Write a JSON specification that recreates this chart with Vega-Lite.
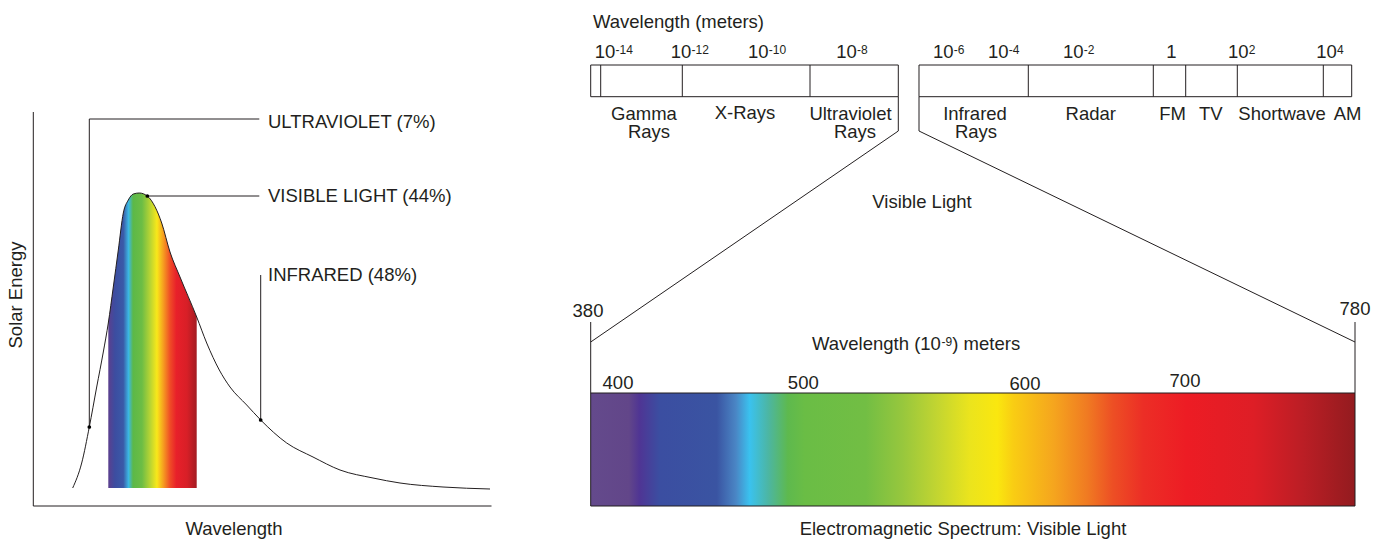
{
  "$schema": "https://vega.github.io/schema/vega-lite/v6.json",
  "width": 1378,
  "height": 539,
  "autosize": {"type": "none"},
  "padding": 0,
  "background": "white",
  "config": {"view": {"stroke": null}, "text": {"font": "Liberation Sans", "color": "#231f20"}},
  "datasets": {
    "curve": [
      {"x": 72.7, "y": 488}, {"x": 81.7, "y": 463}, {"x": 89.3, "y": 427}, {"x": 96.7, "y": 387},
      {"x": 103.3, "y": 352}, {"x": 108.3, "y": 323}, {"x": 113.3, "y": 287}, {"x": 118.3, "y": 250},
      {"x": 123.3, "y": 213}, {"x": 128.3, "y": 200}, {"x": 133.3, "y": 194}, {"x": 139.3, "y": 193},
      {"x": 147.3, "y": 196}, {"x": 155, "y": 206.7}, {"x": 161.7, "y": 223}, {"x": 170, "y": 252},
      {"x": 180, "y": 277}, {"x": 196.7, "y": 317}, {"x": 206.7, "y": 343}, {"x": 219.3, "y": 370},
      {"x": 230, "y": 387}, {"x": 246.7, "y": 405}, {"x": 260.7, "y": 420}, {"x": 286.7, "y": 443},
      {"x": 313, "y": 457}, {"x": 340, "y": 470}, {"x": 373, "y": 478}, {"x": 400, "y": 483},
      {"x": 443, "y": 487}, {"x": 490, "y": 489}
    ],
    "band": [
      {"x": 108.3, "y": 323}, {"x": 113.3, "y": 287}, {"x": 118.3, "y": 250}, {"x": 123.3, "y": 213},
      {"x": 128.3, "y": 200}, {"x": 133.3, "y": 194}, {"x": 139.3, "y": 193}, {"x": 147.3, "y": 196},
      {"x": 155, "y": 206.7}, {"x": 161.7, "y": 223}, {"x": 170, "y": 252}, {"x": 180, "y": 277},
      {"x": 196.7, "y": 317}
    ],
    "segments": [
      {"x": 33.3, "y": 112, "x2": 33.3, "y2": 506},
      {"x": 33.3, "y": 506, "x2": 491.5, "y2": 506},
      {"x": 89.3, "y": 427, "x2": 89.3, "y2": 119},
      {"x": 89.3, "y": 119, "x2": 259.3, "y2": 119},
      {"x": 147.3, "y": 196, "x2": 259.3, "y2": 196},
      {"x": 260.7, "y": 420, "x2": 260.7, "y2": 275},
      {"x": 600.7, "y": 65, "x2": 600.7, "y2": 96.7},
      {"x": 682.3, "y": 65, "x2": 682.3, "y2": 96.7},
      {"x": 810, "y": 65, "x2": 810, "y2": 96.7},
      {"x": 1028.3, "y": 65, "x2": 1028.3, "y2": 96.7},
      {"x": 1153.3, "y": 65, "x2": 1153.3, "y2": 96.7},
      {"x": 1185.7, "y": 65, "x2": 1185.7, "y2": 96.7},
      {"x": 1237.3, "y": 65, "x2": 1237.3, "y2": 96.7},
      {"x": 1323.3, "y": 65, "x2": 1323.3, "y2": 96.7},
      {"x": 898.3, "y": 96.7, "x2": 898.3, "y2": 131},
      {"x": 898.3, "y": 131, "x2": 590.7, "y2": 342},
      {"x": 590.7, "y": 322, "x2": 590.7, "y2": 393},
      {"x": 919, "y": 96.7, "x2": 919, "y2": 131},
      {"x": 919, "y": 131, "x2": 1355, "y2": 342},
      {"x": 1355, "y": 322, "x2": 1355, "y2": 393}
    ],
    "boxes": [
      {"x": 590.7, "y": 65, "x2": 898.3, "y2": 96.7},
      {"x": 919, "y": 65, "x2": 1351.7, "y2": 96.7}
    ],
    "bar": [{"x": 590.7, "y": 393, "x2": 1355, "y2": 506}],
    "dots": [{"x": 89.3, "y": 427}, {"x": 147.3, "y": 196}, {"x": 260.7, "y": 420}],
    "leftText": [
      {"x": 268, "y": 128, "t": "ULTRAVIOLET (7%)"},
      {"x": 268, "y": 201.5, "t": "VISIBLE LIGHT (44%)"},
      {"x": 268, "y": 281.3, "t": "INFRARED (48%)"},
      {"x": 593, "y": 28, "t": "Wavelength (meters)"},
      {"x": 594.7, "y": 57.5, "t": "10"},
      {"x": 670.7, "y": 57.5, "t": "10"},
      {"x": 748, "y": 57.5, "t": "10"},
      {"x": 836.3, "y": 57.5, "t": "10"},
      {"x": 933, "y": 57.5, "t": "10"},
      {"x": 988, "y": 57.5, "t": "10"},
      {"x": 1063, "y": 57.5, "t": "10"},
      {"x": 1166.3, "y": 57.5, "t": "1"},
      {"x": 1228, "y": 57.5, "t": "10"},
      {"x": 1316.3, "y": 57.5, "t": "10"},
      {"x": 812, "y": 349.5, "t": "Wavelength (10"},
      {"x": 952.3, "y": 349.5, "t": ") meters"}
    ],
    "supText": [
      {"x": 615.5, "y": 54, "t": "-14"},
      {"x": 691.5, "y": 54, "t": "-12"},
      {"x": 768.8, "y": 54, "t": "-10"},
      {"x": 857, "y": 54, "t": "-8"},
      {"x": 953.8, "y": 54, "t": "-6"},
      {"x": 1008.8, "y": 54, "t": "-4"},
      {"x": 1083.8, "y": 54, "t": "-2"},
      {"x": 1248.8, "y": 54, "t": "2"},
      {"x": 1337, "y": 54, "t": "4"},
      {"x": 941.6, "y": 345.5, "t": "-9"}
    ],
    "centerText": [
      {"x": 644, "y": 119.5, "t": "Gamma"},
      {"x": 649, "y": 138, "t": "Rays"},
      {"x": 745, "y": 119, "t": "X-Rays"},
      {"x": 850.5, "y": 119.5, "t": "Ultraviolet"},
      {"x": 855, "y": 138, "t": "Rays"},
      {"x": 975, "y": 119.5, "t": "Infrared"},
      {"x": 976, "y": 138, "t": "Rays"},
      {"x": 1090.8, "y": 119.5, "t": "Radar"},
      {"x": 1172.5, "y": 119.5, "t": "FM"},
      {"x": 1210.8, "y": 119.5, "t": "TV"},
      {"x": 1282, "y": 119.5, "t": "Shortwave"},
      {"x": 1347.5, "y": 119.5, "t": "AM"},
      {"x": 922, "y": 208, "t": "Visible Light"},
      {"x": 588, "y": 316.5, "t": "380"},
      {"x": 1355, "y": 315, "t": "780"},
      {"x": 618, "y": 388.5, "t": "400"},
      {"x": 803.3, "y": 389, "t": "500"},
      {"x": 1025, "y": 390, "t": "600"},
      {"x": 1185, "y": 387, "t": "700"},
      {"x": 234, "y": 534.5, "t": "Wavelength"},
      {"x": 963, "y": 534.5, "t": "Electromagnetic Spectrum: Visible Light"}
    ],
    "rotText": [{"x": 21.5, "y": 295, "t": "Solar Energy"}]
  },
  "encoding": {
    "x": {"field": "x", "type": "quantitative", "scale": {"domain": [0, 1378], "nice": false, "zero": false}, "axis": null},
    "y": {"field": "y", "type": "quantitative", "scale": {"domain": [0, 539], "reverse": true, "nice": false, "zero": false}, "axis": null}
  },
  "layer": [
    {
      "data": {"name": "band"},
      "mark": {
        "type": "area", "interpolate": "monotone",
        "fill": {"gradient": "linear", "x1": 0, "y1": 0, "x2": 1, "y2": 0, "stops": [
          {"offset": 0, "color": "#5c3f8e"},
          {"offset": 0.075, "color": "#3c4da0"},
          {"offset": 0.17, "color": "#3a5aa8"},
          {"offset": 0.23, "color": "#3cb9e4"},
          {"offset": 0.28, "color": "#5cb848"},
          {"offset": 0.38, "color": "#6cbd45"},
          {"offset": 0.47, "color": "#b5d334"},
          {"offset": 0.55, "color": "#f8e81a"},
          {"offset": 0.62, "color": "#f6a020"},
          {"offset": 0.7, "color": "#ef4b26"},
          {"offset": 0.77, "color": "#e8202a"},
          {"offset": 0.89, "color": "#d81f27"},
          {"offset": 1, "color": "#a31c22"}
        ]}
      },
      "encoding": {"y2": {"datum": 488}}
    },
    {
      "data": {"name": "curve"},
      "mark": {"type": "line", "interpolate": "monotone", "color": "#231f20", "strokeWidth": 1}
    },
    {
      "data": {"name": "segments"},
      "mark": {"type": "rule", "color": "#231f20", "strokeWidth": 1},
      "encoding": {"x2": {"field": "x2"}, "y2": {"field": "y2"}}
    },
    {
      "data": {"name": "boxes"},
      "mark": {"type": "rect", "filled": false, "color": "#231f20", "strokeWidth": 1},
      "encoding": {"x2": {"field": "x2"}, "y2": {"field": "y2"}}
    },
    {
      "data": {"name": "bar"},
      "mark": {
        "type": "rect", "stroke": "#231f20", "strokeWidth": 1,
        "fill": {"gradient": "linear", "x1": 0, "y1": 0, "x2": 1, "y2": 0, "stops": [
          {"offset": 0, "color": "#644a8c"},
          {"offset": 0.05, "color": "#624689"},
          {"offset": 0.064, "color": "#4f3594"},
          {"offset": 0.09, "color": "#3b4ea1"},
          {"offset": 0.165, "color": "#3a54a2"},
          {"offset": 0.19, "color": "#4a86c5"},
          {"offset": 0.208, "color": "#3ac2ef"},
          {"offset": 0.232, "color": "#4cb6a4"},
          {"offset": 0.258, "color": "#5eb94e"},
          {"offset": 0.28, "color": "#6abd45"},
          {"offset": 0.36, "color": "#72be44"},
          {"offset": 0.408, "color": "#97c73d"},
          {"offset": 0.453, "color": "#c2d531"},
          {"offset": 0.496, "color": "#ebe41d"},
          {"offset": 0.532, "color": "#fae70f"},
          {"offset": 0.553, "color": "#f9cd13"},
          {"offset": 0.606, "color": "#f5a51e"},
          {"offset": 0.65, "color": "#f07a22"},
          {"offset": 0.683, "color": "#ed4f24"},
          {"offset": 0.723, "color": "#ec2e26"},
          {"offset": 0.78, "color": "#ed1c24"},
          {"offset": 0.867, "color": "#de1e26"},
          {"offset": 0.932, "color": "#bb1e25"},
          {"offset": 1, "color": "#931b1f"}
        ]}
      },
      "encoding": {"x2": {"field": "x2"}, "y2": {"field": "y2"}}
    },
    {
      "data": {"name": "dots"},
      "mark": {"type": "point", "filled": true, "color": "#000000", "size": 14, "opacity": 1}
    },
    {
      "data": {"name": "leftText"},
      "mark": {"type": "text", "align": "left", "baseline": "alphabetic", "fontSize": 18.5},
      "encoding": {"text": {"field": "t"}}
    },
    {
      "data": {"name": "supText"},
      "mark": {"type": "text", "align": "left", "baseline": "alphabetic", "fontSize": 12},
      "encoding": {"text": {"field": "t"}}
    },
    {
      "data": {"name": "centerText"},
      "mark": {"type": "text", "align": "center", "baseline": "alphabetic", "fontSize": 18.5},
      "encoding": {"text": {"field": "t"}}
    },
    {
      "data": {"name": "rotText"},
      "mark": {"type": "text", "align": "center", "baseline": "alphabetic", "fontSize": 18.5, "angle": 270},
      "encoding": {"text": {"field": "t"}}
    }
  ]
}
